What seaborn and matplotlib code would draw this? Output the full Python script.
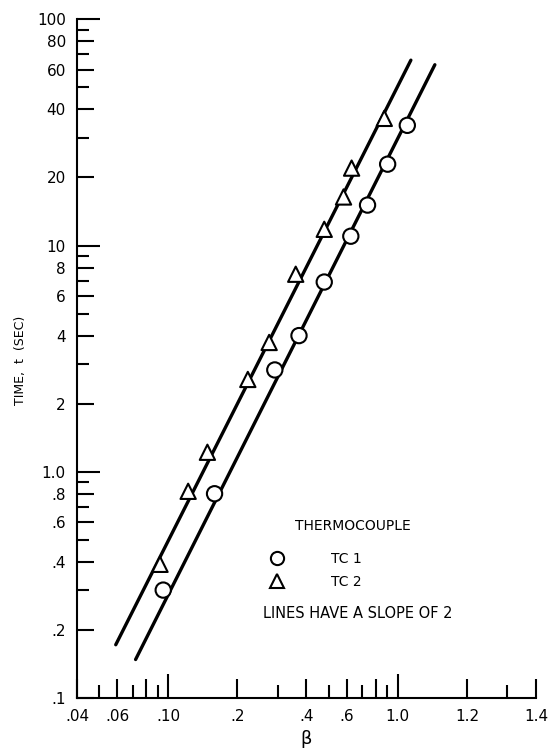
import numpy as np
import pandas as pd
import matplotlib
matplotlib.use("Agg")
import matplotlib.pyplot as plt
import seaborn as sns
from matplotlib.lines import Line2D
from matplotlib.ticker import FixedLocator, FixedFormatter, NullFormatter

# ---- data ----
tc1_beta = [0.095, 0.159, 0.291, 0.371, 0.478, 0.624, 0.738, 0.903, 1.10]
tc1_time = [0.30, 0.80, 2.82, 4.0, 6.9, 11.0, 15.1, 22.9, 34.0]

tc2_beta = [0.092, 0.122, 0.148, 0.222, 0.275, 0.359, 0.478, 0.580, 0.629, 0.873]
tc2_time = [0.39, 0.82, 1.22, 2.56, 3.73, 7.47, 11.8, 16.4, 22.0, 36.5]

# fitted lines (slope 2), end points
tc1_fit_beta = [0.072, 1.45]
tc1_fit_time = [0.148, 63.0]
tc2_fit_beta = [0.059, 1.14]
tc2_fit_time = [0.172, 66.0]

series_names = ["TC 1", "TC 2"]

x_tick_values = [0.04, 0.06, 0.10, 0.2, 0.4, 0.6, 1.0, 2.0, 4.0]
x_tick_labels = [".04", ".06", ".10", ".2", ".4", ".6", "1.0", "1.2", "1.4"]
x_minor_values = [0.05, 0.07, 0.08, 0.09, 0.3, 0.5, 0.7, 0.8, 0.9, 3.0]
x_long_major = [0.10, 1.0]
x_long_minor = [0.08, 0.8]

y_tick_values = [0.1, 0.2, 0.4, 0.6, 0.8, 1, 2, 4, 6, 8, 10, 20, 40, 60, 80, 100]
y_tick_labels = [".1", ".2", ".4", ".6", ".8", "1.0", "2", "4", "6", "8",
                 "10", "20", "40", "60", "80", "100"]
y_minor_values = [0.3, 0.5, 0.7, 0.9, 3, 5, 7, 9, 30, 50, 70, 90]
y_long_major = [1, 10, 100]

# ---- style ----
sns.set_theme(style="ticks", rc={
    "axes.edgecolor": "black", "xtick.color": "black", "ytick.color": "black",
    "text.color": "black", "axes.labelcolor": "black", "axes.linewidth": 1.5,
})
plt.rcParams["font.family"] = ["DejaVu Sans"]

fig = plt.figure(figsize=(5.56, 7.53), dpi=100)
ax = fig.add_axes([0.1385, 0.073, 0.8255, 0.9013])

points = pd.DataFrame({
    "beta": tc1_beta + tc2_beta,
    "time": tc1_time + tc2_time,
    "tc": [series_names[0]] * len(tc1_beta) + [series_names[1]] * len(tc2_beta),
})
fits = pd.DataFrame({
    "beta": tc1_fit_beta + tc2_fit_beta,
    "time": tc1_fit_time + tc2_fit_time,
    "tc": [series_names[0]] * 2 + [series_names[1]] * 2,
})

sns.lineplot(data=fits, x="beta", y="time", units="tc", estimator=None,
             color="black", linewidth=2.4, sort=False, ax=ax, zorder=2)
sns.scatterplot(data=points, x="beta", y="time", style="tc",
                markers={series_names[0]: "o", series_names[1]: "^"},
                s=121, color="white", edgecolor="black", linewidth=1.5,
                legend=False, ax=ax, zorder=3)

ax.set_xscale("log")
ax.set_yscale("log")
ax.set_xlim(0.04, 4.0)
ax.set_ylim(0.1, 100)

ax.xaxis.set_major_locator(FixedLocator(x_tick_values))
ax.xaxis.set_major_formatter(FixedFormatter(x_tick_labels))
ax.xaxis.set_minor_locator(FixedLocator(x_minor_values))
ax.xaxis.set_minor_formatter(NullFormatter())
ax.yaxis.set_major_locator(FixedLocator(y_tick_values))
ax.yaxis.set_major_formatter(FixedFormatter(y_tick_labels))
ax.yaxis.set_minor_locator(FixedLocator(y_minor_values))
ax.yaxis.set_minor_formatter(NullFormatter())

ax.tick_params(axis="both", which="both", direction="in", width=1.5,
               top=False, right=False, color="black")
ax.tick_params(axis="x", which="major", length=13.5, pad=8, labelsize=11)
ax.tick_params(axis="x", which="minor", length=9.5)
ax.tick_params(axis="y", which="major", length=12.5, pad=8, labelsize=11)
ax.tick_params(axis="y", which="minor", length=8.5)

for tk, v in zip(ax.xaxis.get_major_ticks(len(x_tick_values)), x_tick_values):
    if np.any(np.isclose(v, x_long_major)):
        tk.tick1line.set_markersize(17)
for tk, v in zip(ax.xaxis.get_minor_ticks(len(x_minor_values)), x_minor_values):
    if np.any(np.isclose(v, x_long_minor)):
        tk.tick1line.set_markersize(13.5)
for tk, v in zip(ax.yaxis.get_major_ticks(len(y_tick_values)), y_tick_values):
    if np.any(np.isclose(v, y_long_major)):
        tk.tick1line.set_markersize(16.5)

sns.despine(ax=ax)

ax.set_xlabel("β", fontsize=13, labelpad=4)
ax.set_ylabel("TIME,  t  (SEC)", fontsize=9)
ax.yaxis.set_label_coords(-0.11, 0.498)

# legend and notes
ax.text(0.600, 0.2534, "THERMOCOUPLE", transform=ax.transAxes,
        ha="center", va="center", fontsize=10)
handles = [
    Line2D([], [], marker="o", ls="none", mfc="white", mec="black", mew=1.5, ms=9.5),
    Line2D([], [], marker="^", ls="none", mfc="white", mec="black", mew=1.5, ms=9.5),
]
ax.legend(handles, series_names, loc="center left", bbox_to_anchor=(0.4198, 0.1880),
          frameon=False, handlelength=1.0, handletextpad=3.4, labelspacing=0.62,
          borderpad=0, borderaxespad=0, fontsize=10)
ax.text(0.611, 0.1248, "LINES HAVE A SLOPE OF 2", transform=ax.transAxes,
        ha="center", va="center", fontsize=10.5)

fig.savefig("out.png", dpi=100)
